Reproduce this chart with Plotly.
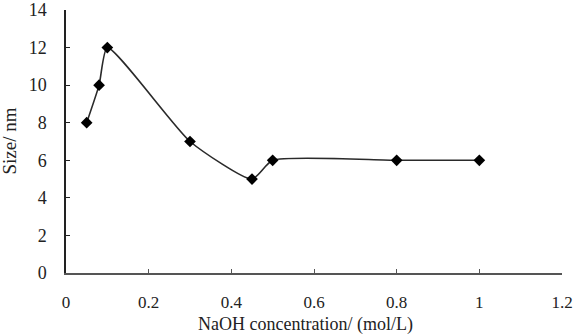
import plotly.graph_objects as go

naoh_conc = [0.05, 0.08, 0.1, 0.3, 0.45, 0.5, 0.8, 1.0]
size_nm = [8, 10, 12, 7, 5, 6, 6, 6]

x_ticks = [0, 0.2, 0.4, 0.6, 0.8, 1.0, 1.2]
x_tick_labels = ["0", "0.2", "0.4", "0.6", "0.8", "1", "1.2"]
y_ticks = [0, 2, 4, 6, 8, 10, 12, 14]
x_title = "NaOH concentration/ (mol/L)"
y_title = "Size/ nm"

font_family = "Liberation Serif, Times New Roman, serif"

fig = go.Figure()
fig.add_trace(go.Scatter(
    x=naoh_conc, y=size_nm,
    mode="lines+markers",
    line=dict(color="#2a2a2a", width=1.6, shape="spline", smoothing=0.55),
    marker=dict(symbol="diamond", size=9, color="black"),
    showlegend=False,
))

fig.update_layout(
    width=580, height=336,
    margin=dict(l=66, r=18, t=10, b=63),
    paper_bgcolor="white", plot_bgcolor="white",
    font=dict(family=font_family, size=18, color="#222"),
)
fig.update_xaxes(
    range=[0, 1.2], tickvals=x_ticks, ticktext=x_tick_labels,
    showgrid=False, zeroline=False, automargin=False,
    showline=True, linecolor="#555", linewidth=1.5,
    ticks="inside", ticklen=4, tickcolor="#555", tickwidth=1,
    ticklabelstandoff=13,
    tickfont=dict(size=17),
)
fig.update_yaxes(
    range=[0, 14], tickvals=y_ticks,
    showgrid=False, zeroline=False, automargin=False,
    showline=True, linecolor="#222", linewidth=1.5,
    ticks="inside", ticklen=4, tickcolor="#222", tickwidth=1,
    ticklabelstandoff=14,
    tickfont=dict(size=18),
)

# axis titles placed as annotations for precise positioning
fig.add_annotation(
    text=x_title, xref="paper", yref="paper",
    x=0.482, y=-63 / 263, xanchor="center", yanchor="bottom",
    borderpad=0, showarrow=False,
    font=dict(family=font_family, size=18, color="#222"),
)
fig.add_annotation(
    text=y_title, xref="paper", yref="paper",
    x=-57 / 496, y=0.5, xanchor="center", yanchor="middle", textangle=-90,
    showarrow=False, font=dict(family=font_family, size=19, color="#222"),
)

fig.write_html("out.html")
